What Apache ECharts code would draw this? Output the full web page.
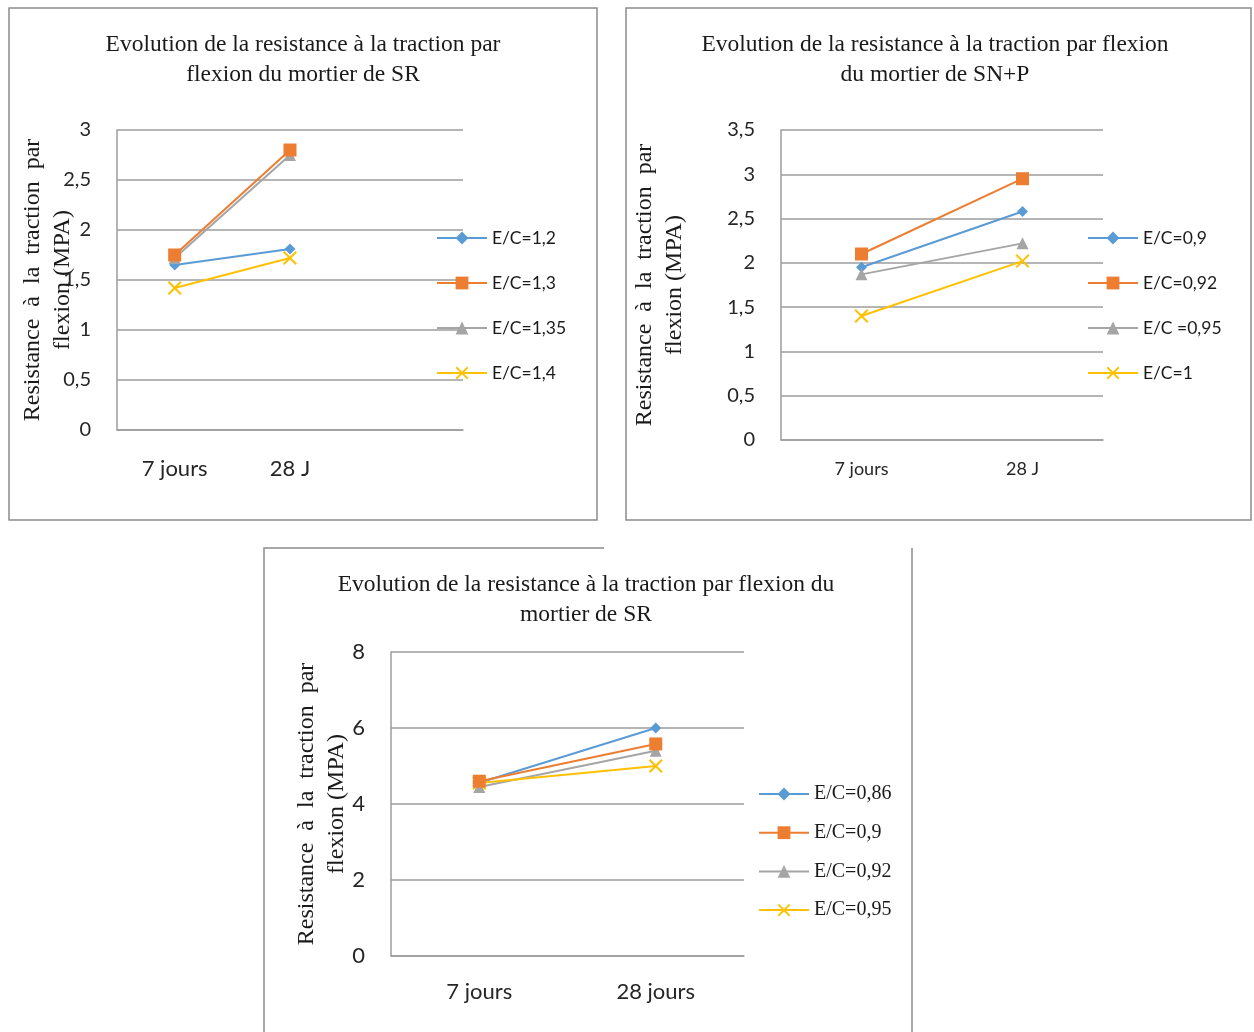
<!DOCTYPE html>
<html>
<head>
<meta charset="utf-8">
<script src="https://cdn.jsdelivr.net/npm/echarts@6/dist/echarts.min.js"></script>
<style>
  html, body { margin: 0; padding: 0; background: #fff; }
  #chart { width: 1254px; height: 1032px; }
</style>
</head>
<body>
<div id="chart"></div>
<script>
// ---- data: flexural tensile strength (MPa) at 7 and 28 days ----
const catsSR1 = ['7 jours', '28 J', ''];
const namesSR1 = ['E/C=1,2', 'E/C=1,3', 'E/C=1,35', 'E/C=1,4'];
const sr1_ec12 = [1.65, 1.81];
const sr1_ec13 = [1.75, 2.80];
const sr1_ec135 = [1.72, 2.75];
const sr1_ec14 = [1.42, 1.72];

const catsSNP = ['7 jours', '28 J'];
const namesSNP = ['E/C=0,9', 'E/C=0,92', 'E/C =0,95', 'E/C=1'];
const snp_ec09 = [1.95, 2.58];
const snp_ec092 = [2.10, 2.95];
const snp_ec095 = [1.87, 2.22];
const snp_ec1 = [1.40, 2.02];

const catsSR2 = ['7 jours', '28 jours'];
const namesSR2 = ['E/C=0,86', 'E/C=0,9', 'E/C=0,92', 'E/C=0,95'];
const sr2_ec086 = [4.56, 6.00];
const sr2_ec09 = [4.60, 5.58];
const sr2_ec092 = [4.45, 5.40];
const sr2_ec095 = [4.55, 5.00];

const titles = [
  'Evolution de la resistance à la traction par\nflexion du mortier de SR',
  'Evolution de la resistance à la traction par flexion\ndu mortier de SN+P',
  'Evolution de la resistance à la traction par flexion du\nmortier de SR'
];
const yName = 'Resistance  à  la  traction  par\nflexion (MPA)';

// ---- styling ----
const COLORS = ['#5b9bd5', '#ed7d31', '#a5a5a5', '#ffc000'];
const SYMBOLS = ['diamond', 'rect', 'triangle',
  'path://M1,0 L5,4 L9,0 L10,1 L6,5 L10,9 L9,10 L5,6 L1,10 L0,9 L4,5 L0,1 Z'];
const SYM_SIZES = [11, 13, 12, 14];
const SERIF = '"Liberation Serif", "DejaVu Serif", serif';
const SANS = 'Lato, "Open Sans", sans-serif';
const GRID_COLOR = '#9d9d9d';
const comma = v => String(v).replace('.', ',');
// series names carry a panel suffix so each legend only binds its own lines
const keyOf = (label, i) => label + '#' + i;
const labelOf = key => key.split('#')[0];

const panels = [
  {
    cats: catsSR1, names: namesSR1, data: [sr1_ec12, sr1_ec13, sr1_ec135, sr1_ec14],
    grid: { left: 117, top: 130, width: 346, height: 300 },
    y: { max: 3, interval: 0.5 }, tickSize: 20, xSize: 22, xMargin: 28, nameGap: 39,
    legend: { left: 436, top: 229, gap: 27, font: SANS, size: 17.5 },
    title: { x: 298, y: 25, text: titles[0] }
  },
  {
    cats: catsSNP, names: namesSNP, data: [snp_ec09, snp_ec092, snp_ec095, snp_ec1],
    grid: { left: 781, top: 130, width: 322, height: 310 },
    y: { max: 3.5, interval: 0.5 }, tickSize: 20, xSize: 18, xMargin: 20, nameGap: 91,
    legend: { left: 1087, top: 229, gap: 27, font: SANS, size: 17.5 },
    title: { x: 930, y: 25, text: titles[1] }
  },
  {
    cats: catsSR2, names: namesSR2, data: [sr2_ec086, sr2_ec09, sr2_ec092, sr2_ec095],
    grid: { left: 391, top: 652, width: 353, height: 304 },
    y: { max: 8, interval: 2 }, tickSize: 22, xSize: 22, xMargin: 25, nameGap: 39,
    legend: { left: 758, top: 784, gap: 18.7, font: SERIF, size: 20 },
    title: { x: 581, y: 565, text: titles[2] }
  }
];

const option = {
  animation: false,
  backgroundColor: '#fff',
  title: [], grid: [], xAxis: [], yAxis: [], legend: [], series: [],
  graphic: [
    // panel frames
    { type: 'rect', shape: { x: 9, y: 8, width: 588, height: 512 },
      style: { fill: null, stroke: '#8c8c8c', lineWidth: 1.5 }, silent: true },
    { type: 'rect', shape: { x: 626, y: 8, width: 625, height: 512 },
      style: { fill: null, stroke: '#8c8c8c', lineWidth: 1.5 }, silent: true },
    { type: 'polyline', shape: { points: [[264, 1032], [264, 548], [604, 548]] },
      style: { fill: null, stroke: '#8c8c8c', lineWidth: 1.5 }, silent: true },
    { type: 'line', shape: { x1: 912, y1: 548, x2: 912, y2: 1032 },
      style: { stroke: '#8c8c8c', lineWidth: 1.5 }, silent: true }
  ]
};

panels.forEach((p, i) => {
  option.title.push({
    text: p.title.text, left: p.title.x, top: p.title.y, textAlign: 'center',
    textStyle: { fontFamily: SERIF, fontSize: 23.5, fontWeight: 'normal', color: '#1a1a1a', lineHeight: 30 }
  });
  option.grid.push(Object.assign({ containLabel: false }, p.grid));
  option.xAxis.push({
    type: 'category', gridIndex: i, data: p.cats, boundaryGap: true,
    axisLine: { show: true, lineStyle: { color: GRID_COLOR, width: 1.5 } },
    axisTick: { show: false },
    axisLabel: { fontFamily: SANS, fontSize: p.xSize, color: '#262626', margin: p.xMargin }
  });
  option.yAxis.push({
    type: 'value', gridIndex: i, min: 0, max: p.y.max, interval: p.y.interval,
    name: yName, nameLocation: 'middle', nameRotate: 90, nameGap: p.nameGap,
    nameMoveOverlap: false,
    nameTextStyle: { fontFamily: SERIF, fontSize: 24, color: '#1a1a1a', lineHeight: 30 },
    axisLine: { show: true, lineStyle: { color: GRID_COLOR, width: 1.5 } },
    axisTick: { show: false },
    splitLine: { show: true, lineStyle: { color: GRID_COLOR, width: 1.5 } },
    axisLabel: { fontFamily: SANS, fontSize: p.tickSize, color: '#262626', margin: 26, formatter: comma }
  });
  option.legend.push({
    orient: 'vertical', left: p.legend.left, top: p.legend.top, padding: 0,
    itemWidth: 50, itemHeight: 16, itemGap: p.legend.gap,
    data: p.names.map(n => keyOf(n, i)),
    formatter: labelOf,
    textStyle: { fontFamily: p.legend.font, fontSize: p.legend.size, color: '#1a1a1a', lineHeight: 16 }
  });
  p.names.forEach((n, k) => {
    option.series.push({
      type: 'line', name: keyOf(n, i), xAxisIndex: i, yAxisIndex: i,
      data: p.data[k],
      symbol: SYMBOLS[k], symbolSize: SYM_SIZES[k],
      lineStyle: { color: COLORS[k], width: 2 },
      itemStyle: { color: COLORS[k], borderWidth: 0 },
      z: 2 + (k === 1 ? 1 : 0)
    });
  });
});

const chart = echarts.init(document.getElementById('chart'), null, { renderer: 'canvas' });
chart.setOption(option);
</script>
</body>
</html>
